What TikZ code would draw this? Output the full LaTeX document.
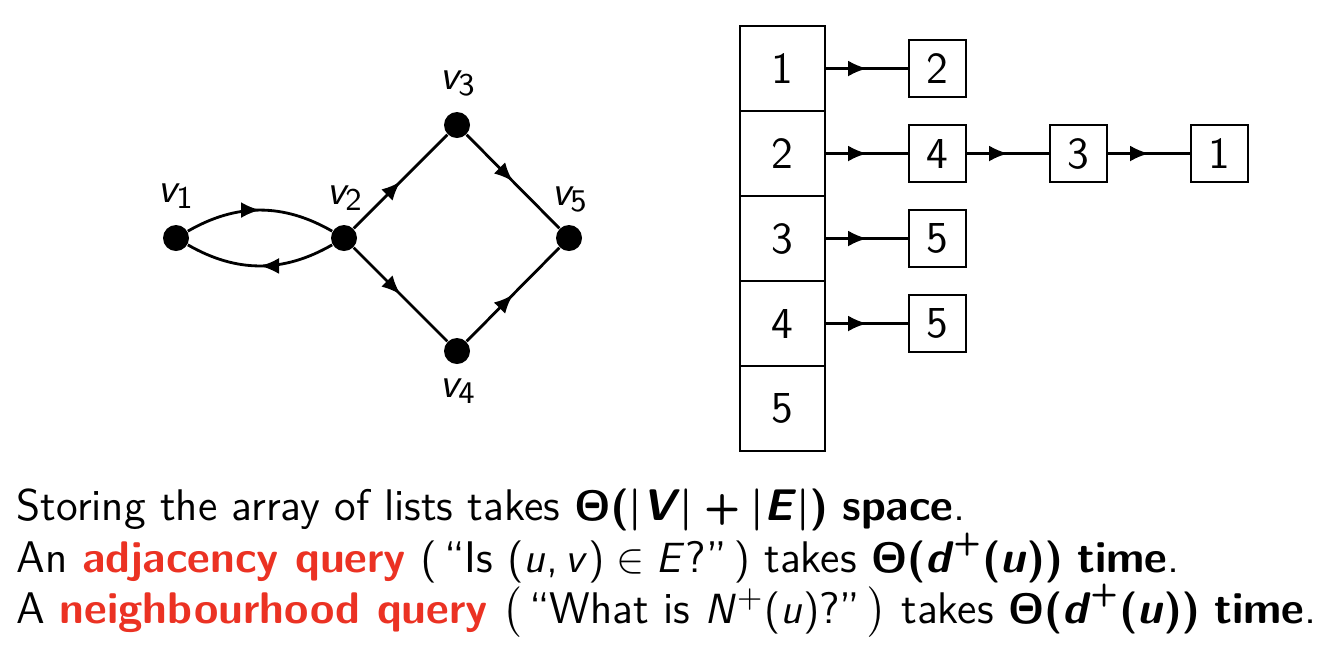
\documentclass[tikz,border=0pt]{standalone}
\usepackage{amsmath}
\usepackage{tikz}
\usetikzlibrary{arrows.meta, positioning, decorations.markings}
\renewcommand{\familydefault}{\sfdefault}
%% sans serif maths, as on the slides
\SetSymbolFont{operators}{normal}{OT1}{cmss}{m}{n}
\SetSymbolFont{operators}{bold}{OT1}{cmss}{bx}{n}
\SetSymbolFont{letters}{normal}{OT1}{cmss}{m}{sl}
\SetSymbolFont{letters}{bold}{OT1}{cmss}{bx}{n}
\mathcode`\,="602C
\newcommand{\bv}[1]{\textbf{\textit{#1}}}
\definecolor{alertred}{RGB}{235,50,35}
\newcommand{\alertw}[1]{\textbf{\textcolor{alertred}{#1}}}
\tikzset{
  %% ---- graph ----
  vertex/.style = {circle, fill=black, inner sep=0pt, minimum size=0.26cm},
  vlabel/.style = {anchor=base, inner sep=0pt},
  midarrow/.style = {thick, postaction={decorate},
                     decoration={markings, mark=at position 0.5 with
                       {\arrow{Latex[length=1.9mm, width=1.6mm]}}}},
  %% ---- lists ----
  cell/.style   = {rectangle, draw, thick, minimum size=0.85cm,
                   inner sep=0pt, outer sep=0pt},
  item/.style   = {rectangle, draw, thick, minimum size=0.57cm,
                   inner sep=0pt, outer sep=0pt},
  textline/.style = {anchor=base west, inner sep=0pt,
                     text height=3mm, text depth=1mm},
}
\begin{document}
\begin{tikzpicture}[every node/.style={font=\fontsize{12.6}{15}\selectfont}]
\useasboundingbox (0,0) rectangle (13.34,-6.66);
%% graph
\node[vertex] (v1) at (1.76,-2.38) {};
\node[vertex] (v2) at (3.44,-2.38) {};
\node[vertex] (v3) at (4.57,-1.25) {};
\node[vertex] (v4) at (4.57,-3.51) {};
\node[vertex] (v5) at (5.69,-2.38) {};
\node[vlabel] (l1) at (1.76,-2.02) {$v_1$};
\node[vlabel] (l2) at (3.45,-2.04) {$v_2$};
\node[vlabel] (l3) at (4.58,-0.89) {$v_3$};
\node[vlabel] (l4) at (4.58,-3.97) {$v_4$};
\node[vlabel] (l5) at (5.70,-2.05) {$v_5$};
\draw[midarrow] (v1) to[bend left=30] (v2);
\draw[midarrow] (v2) to[bend left=30] (v1);
\draw[midarrow] (v2) -- (v3);
\draw[midarrow] (v3) -- (v5);
\draw[midarrow] (v2) -- (v4);
\draw[midarrow] (v4) -- (v5);
%% array of lists
\node[cell] (c1) at (7.825,-0.685) {1};
\node[cell, below=0pt of c1] (c2) {2};
\node[cell, below=0pt of c2] (c3) {3};
\node[cell, below=0pt of c3] (c4) {4};
\node[cell, below=0pt of c4] (c5) {5};
\node[item, right=0.84cm of c1] (a1) {2};
\node[item, right=0.84cm of c2] (b1) {4};
\node[item, right=0.84cm of b1] (b2) {3};
\node[item, right=0.84cm of b2] (b3) {1};
\node[item, right=0.84cm of c3] (d1) {5};
\node[item, right=0.84cm of c4] (e1) {5};
\draw[midarrow] (c1) -- (a1);
\draw[midarrow] (c2) -- (b1); \draw[midarrow] (b1) -- (b2); \draw[midarrow] (b2) -- (b3);
\draw[midarrow] (c3) -- (d1);
\draw[midarrow] (c4) -- (e1);
%% text
\node[textline] (t1) at (0.16,-5.20) {Storing the array of lists takes {\boldmath$\Theta(|\bv{V}|+|\bv{E}|)$} \textbf{space}.};
\node[textline] (t2) at (0.16,-5.72) {An \alertw{adjacency query} $\left(\text{\,``Is $(u,v)\in E$?''\,}\right)$ takes {\boldmath$\Theta(\bv{d}^+(\bv{u}))$} \textbf{time}.};
\node[textline] (t3) at (0.16,-6.23) {A \alertw{neighbourhood query} $\left(\text{\,``What is $N^+(u)$?''\,}\right)$ takes {\boldmath$\Theta(\bv{d}^+(\bv{u}))$} \textbf{time}.};
\end{tikzpicture}
\end{document}
